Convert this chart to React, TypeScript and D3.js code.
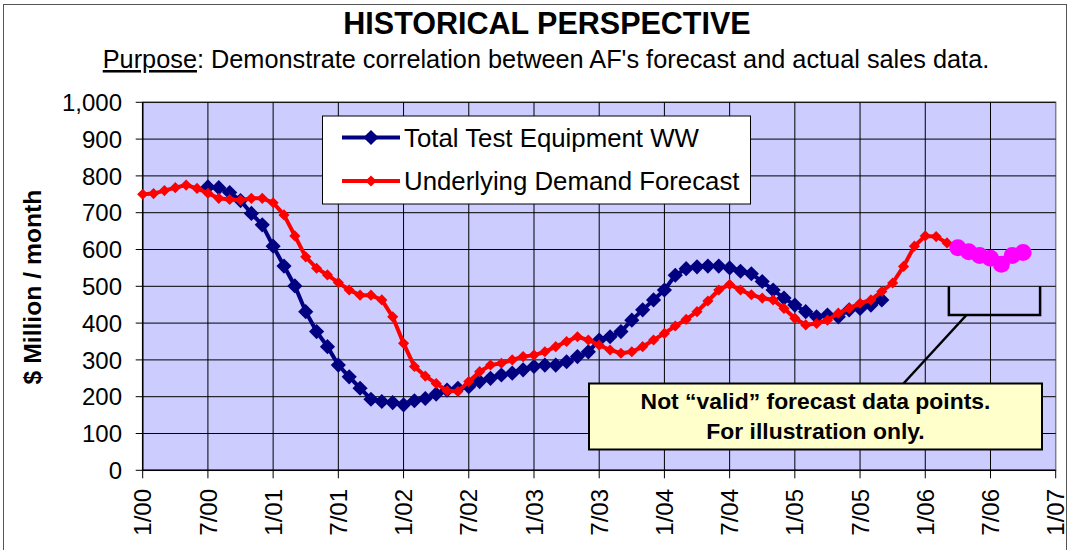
import React from 'react';
import * as d3 from 'd3';

// month index 0 = Jan 2000
const xTickLabels = ['1/00', '7/00', '1/01', '7/01', '1/02', '7/02', '1/03', '7/03', '1/04', '7/04', '1/05', '7/05', '1/06', '7/06', '1/07'];
const yTicks = [0, 100, 200, 300, 400, 500, 600, 700, 800, 900, 1000];

const totalTestStart = 6;
const totalTestWW = [
  770, 768, 755, 733, 698, 667, 609, 555, 501, 431, 377, 336, 286, 254, 223, 193, 187, 184, 178, 189,
  195, 207, 218, 223, 227, 241, 250, 259, 264, 273, 282, 286, 286, 295, 309, 322, 354, 363, 377, 408,
  436, 463, 490, 530, 548, 553, 555, 555, 550, 541, 534, 513, 490, 468, 449, 431, 417, 422, 417, 436,
  440, 449, 463,
];

const demandStart = 0;
const demandForecast = [
  750, 752, 760, 768, 775, 766, 753, 739, 736, 734, 739, 739, 727, 694, 637, 580, 549, 531, 510, 490,
  476, 476, 463, 417, 345, 282, 256, 236, 216, 214, 241, 268, 286, 291, 300, 309, 313, 322, 336, 350,
  363, 354, 340, 327, 318, 322, 336, 354, 372, 392, 410, 431, 460, 490, 505, 490, 477, 468, 463, 440,
  413, 395, 399, 408, 427, 440, 454, 463, 486, 509, 554, 609, 637, 635, 618,
];

const illustrativeStart = 75;
const illustrativeForecast = [605, 594, 584, 576, 560, 584, 592];

const FONT = 'Liberation Sans, Arial, sans-serif';

type Pt = { i: number; v: number };
const toPts = (start: number, vals: number[]): Pt[] => vals.map((v, k) => ({ i: start + k, v }));

const App: React.FC = () => {
  const W = 1070;
  const H = 550;
  const left = 142.7;
  const right = 1055.7;
  const top = 102.3;
  const bottom = 470.3;

  const x = d3.scaleLinear().domain([0, 84]).range([left, right]);
  const y = d3.scaleLinear().domain([0, 1000]).range([bottom, top]);

  const line = d3.line<Pt>().x(d => x(d.i)).y(d => y(d.v));

  const blue = toPts(totalTestStart, totalTestWW);
  const red = toPts(demandStart, demandForecast);
  const pink = toPts(illustrativeStart, illustrativeForecast);
  const redLine = red.concat(pink.slice(0, 1));

  const bigDiamond = d3.symbol(d3.symbolSquare, 115)()!;
  const smallDiamond = d3.symbol(d3.symbolSquare, 62)()!;

  const fmt = d3.format(',');

  // annotation bracket under the illustrative points
  const bx0 = x(illustrativeStart) - 9;
  const bx1 = x(illustrativeStart + illustrativeForecast.length - 1) + 17;
  const byTop = y(500);
  const byBot = y(422);
  const box = { x0: 589, x1: 1042, y0: 383.5, y1: 449.5 };

  return (
    <svg width={W} height={H} style={{ position: 'absolute', left: 0, top: 0, background: '#fff' }} fontFamily={FONT}>
      <rect x={3.5} y={4.5} width={1063} height={560} fill="#fff" stroke="#555" strokeWidth={1} />

      <text x={547} y={34} textAnchor="middle" fontSize={30.5} fontWeight="bold">HISTORICAL PERSPECTIVE</text>
      <text x={546} y={68} textAnchor="middle" fontSize={25.3}>
        <tspan textDecoration="underline">Purpose</tspan>: Demonstrate correlation between AF's forecast and actual sales data.
      </text>

      {/* plot area */}
      <rect x={left} y={top} width={right - left} height={bottom - top} fill="#CCCCFF" stroke="#808080" strokeWidth={1.5} />

      {yTicks.filter(t => t > 0).map(t => (
        <line key={'gy' + t} x1={left} x2={right} y1={y(t)} y2={y(t)} stroke="#000" strokeWidth={1} />
      ))}
      {xTickLabels.map((lab, k) => k > 0 && k < xTickLabels.length - 1 ? (
        <line key={'gx' + lab} x1={x(k * 6)} x2={x(k * 6)} y1={top} y2={bottom} stroke="#000" strokeWidth={1} />
      ) : null)}

      {/* axes */}
      <line x1={left} x2={left} y1={top} y2={bottom} stroke="#000" strokeWidth={1.5} />
      <line x1={left} x2={right} y1={bottom} y2={bottom} stroke="#000" strokeWidth={1.5} />
      {yTicks.map(t => (
        <g key={'yt' + t}>
          <line x1={left - 7} x2={left} y1={y(t)} y2={y(t)} stroke="#000" strokeWidth={1} />
          <text x={122} y={y(t)} dy="0.36em" textAnchor="end" fontSize={24}>{fmt(t)}</text>
        </g>
      ))}
      {xTickLabels.map((lab, k) => (
        <g key={'xt' + lab}>
          <line x1={x(k * 6)} x2={x(k * 6)} y1={bottom} y2={bottom + 8} stroke="#000" strokeWidth={1} />
          <text transform={`translate(${x(k * 6)},${489}) rotate(-90)`} dy="0.36em" textAnchor="end" fontSize={24}>{lab}</text>
        </g>
      ))}
      <text transform="translate(41,287) rotate(-90)" textAnchor="middle" fontSize={24.7} fontWeight="bold">$ Million / month</text>

      {/* series */}
      <path d={line(blue)!} fill="none" stroke="#000080" strokeWidth={4} />
      {blue.map(p => (
        <path key={'b' + p.i} d={bigDiamond} transform={`translate(${x(p.i)},${y(p.v)}) rotate(45)`} fill="#000080" />
      ))}
      <path d={line(redLine)!} fill="none" stroke="#FF0000" strokeWidth={4} />
      {red.map(p => (
        <path key={'r' + p.i} d={smallDiamond} transform={`translate(${x(p.i)},${y(p.v)}) rotate(45)`} fill="#FF0000" />
      ))}
      <path d={line(pink)!} fill="none" stroke="#FF00FF" strokeWidth={6} />
      {pink.map(p => (
        <circle key={'m' + p.i} cx={x(p.i)} cy={y(p.v)} r={8.5} fill="#FF00FF" />
      ))}

      {/* legend */}
      <rect x={322.5} y={116} width={428} height={88} fill="#fff" stroke="#000" strokeWidth={1} />
      <line x1={342} x2={400} y1={137.5} y2={137.5} stroke="#000080" strokeWidth={4} />
      <path d={bigDiamond} transform="translate(371,137.5) rotate(45)" fill="#000080" />
      <text x={404} y={146.5} fontSize={25.8}>Total Test Equipment WW</text>
      <line x1={342} x2={400} y1={181} y2={181} stroke="#FF0000" strokeWidth={4} />
      <path d={smallDiamond} transform="translate(371,181) rotate(45)" fill="#FF0000" />
      <text x={404} y={190} fontSize={25.8}>Underlying Demand Forecast</text>

      {/* annotation */}
      <path d={`M${bx0},${byTop}V${byBot}H${bx1}V${byTop}`} fill="none" stroke="#000" strokeWidth={2.5} />
      <line x1={966.5} y1={byBot} x2={903.5} y2={box.y0} stroke="#000" strokeWidth={2.5} />
      <rect x={box.x0} y={box.y0} width={box.x1 - box.x0} height={box.y1 - box.y0} fill="#FFFFCC" stroke="#000" strokeWidth={2} />
      <text x={815.5} y={409} textAnchor="middle" fontSize={22.9} fontWeight="bold">Not “valid” forecast data points.</text>
      <text x={815.5} y={439} textAnchor="middle" fontSize={22.9} fontWeight="bold">For illustration only.</text>
    </svg>
  );
};

export default App;
